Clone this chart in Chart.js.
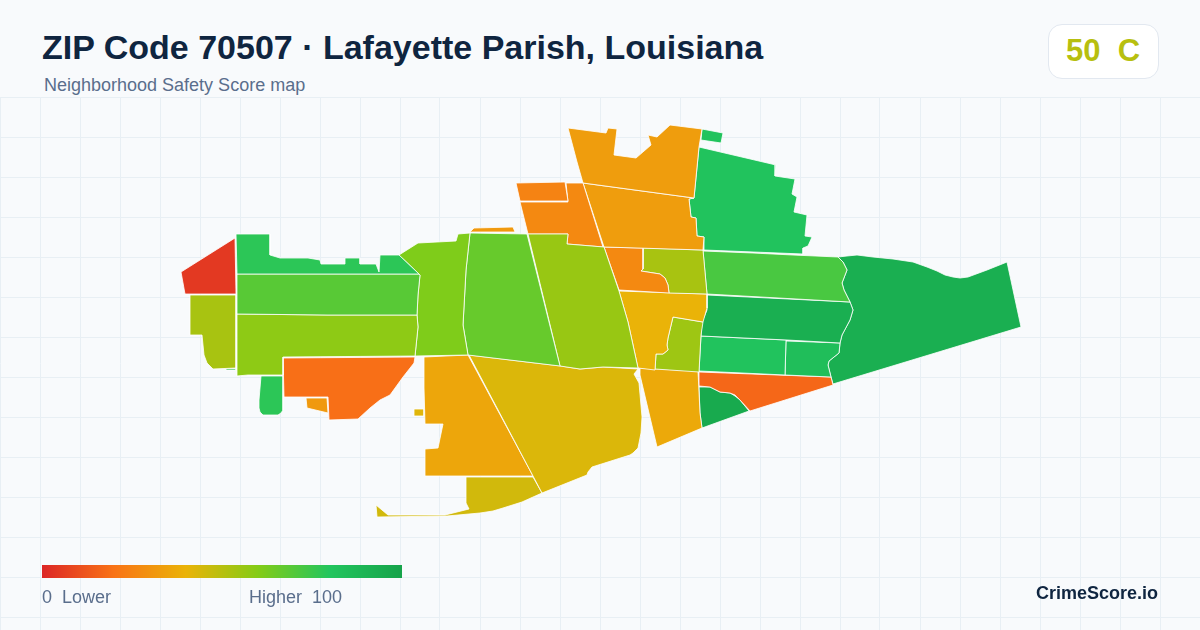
<!DOCTYPE html>
<html>
<head>
<meta charset="utf-8">
<title>ZIP Code 70507</title>
<script src="https://cdn.jsdelivr.net/npm/chart.js@4/dist/chart.umd.js"></script>
<style>
  html, body { margin: 0; padding: 0; background: #f8fafc; }
  body { width: 1200px; height: 630px; position: relative; overflow: hidden; font-family: "Liberation Sans", sans-serif; }
  #map { position: absolute; left: 0; top: 97px; }
  .txt { position: absolute; white-space: pre; line-height: 1; }
  #title { left: 42px; top: 30px; font-size: 34px; font-weight: 700; color: #0f2540; }
  #sub { left: 44px; top: 76px; font-size: 18px; color: #5a6e8c; }
  #badge { position: absolute; left: 1048px; top: 24px; width: 109px; height: 53px; background: #fff; border: 1px solid #e2e8f0; border-radius: 14px; }
  #grade { left: 1066px; top: 35px; font-size: 31px; font-weight: 700; color: #b7bf0f; }
  #ramp { position: absolute; left: 42px; top: 565px; width: 360px; height: 13px; }
  #low { left: 42px; top: 588px; font-size: 18px; color: #5a6e8c; }
  #high { left: 249px; top: 588px; font-size: 18px; color: #5a6e8c; }
  #brand { left: 1036px; top: 584px; font-size: 18px; font-weight: 700; color: #0f2540; }
</style>
</head>
<body>
<canvas id="map" width="1200" height="533"></canvas>
<div class="txt" id="title">ZIP Code 70507 · Lafayette Parish, Louisiana</div>
<div class="txt" id="sub">Neighborhood Safety Score map</div>
<div id="badge"></div>
<div class="txt" id="grade">50  C</div>
<div id="ramp"></div>
<div class="txt" id="low">0  Lower</div>
<div class="txt" id="high">Higher  100</div>
<div class="txt" id="brand">CrimeScore.io</div>
<script>
(function () {
    'use strict';

    // score for each tract
    var tractScores = [5, 78, 69, 58, 53, 78, 19, 32, 78, 61, 66, 32, 56, 25, 27, 33, 33, 81, 81, 27, 53, 40, 55, 37, 72, 93, 81, 84, 17, 96, 93, 43, 36, 42, 45];

    // tract outlines as x,y runs in map units
    var tractOutlines = [
        [181,272, 235,238, 236,294, 185,294],
        [236,234, 270,234, 270,255, 280,258, 308,258, 320,260, 321,264, 345,264, 345,258, 360,258, 360,264, 376,264, 379,272, 380,255, 399,255, 419,274, 237,274],
        [237,274, 419,274, 420,275, 418,295, 417,315, 327,315, 237,314],
        [237,314, 327,315, 417,315, 418,327, 415,356, 283,357, 283,375, 248,375, 237,376],
        [190,295, 236,295, 236,368, 213,369, 207,363, 204,355, 202,335, 190,335],
        [226,368.5, 236,368.5, 236,370, 226,370],
        [283,358, 415,357, 414,363, 403,377, 390,395, 380,400, 370,408, 358,419, 329,420, 328,397, 284,397],
        [306,398, 327,398, 328,413, 307,408],
        [261,376, 283,376, 283,410, 281,413, 278,415, 263,415, 260,412, 259,408, 259,400],
        [399,255, 418,243, 456,241, 458,234, 470,233, 466,270, 463,325, 468,355, 415,356, 418,327, 417,315, 418,295, 420,275, 419,274],
        [470,233, 527,234, 560,366, 468,355, 463,325, 466,270],
        [470,232, 474,228, 513,227, 515,232],
        [528,234, 568,234, 567,244, 604,247, 619,291, 628,322, 638,368, 603,367, 580,369, 560,366],
        [516,183, 565,182, 568,201, 520,201],
        [520,202, 568,202, 566,183, 583,183, 603,247, 567,244, 568,234, 528,234],
        [568,128, 606,133, 608,128, 617,129, 614,155, 636,158, 651,145, 648,135, 657,137, 670,125, 702,129, 699,147, 694,198, 583,183, 577,162],
        [583,183, 694,198, 689,199, 691,217, 696,218, 697,236, 704,237, 703,250, 604,247],
        [699,147, 776,165, 775,176, 795,179, 792,194, 797,197, 794,212, 807,215, 805,236, 812,237, 808,246, 803,248, 803,254, 704,250, 704,237, 697,236, 696,218, 691,217, 689,199, 694,198],
        [702,129, 723,133, 721,143, 701,140],
        [604,247, 643,248, 643,269, 641,271, 660,274, 665,278, 668,285, 669,293, 619,290],
        [643,248, 703,250, 707,294, 669,293, 668,285, 665,278, 660,274, 641,271, 643,269],
        [619,291, 707,294, 707,308, 703,322, 673,317, 668,338, 667,345, 668,350, 663,354, 656,354, 655,370, 638,368, 628,322],
        [673,317, 703,322, 701,335, 699,372, 655,369, 656,354, 663,354, 668,350, 667,345, 668,338],
        [640,368, 698,371, 700,413, 702,428, 657,447, 640,375],
        [703,251, 753,253, 793,255, 838,257, 843,262, 847,270, 842,283, 844,290, 850,302, 707,294],
        [707,295, 850,302, 853,310, 850,320, 842,335, 840,343, 787,340, 701,336, 702,322, 707,310],
        [701,336, 786,340, 785,375, 699,371],
        [786,341, 840,343, 839,353, 829,361, 828,365, 831,377, 785,375],
        [699,372, 831,377, 833,385, 750,411, 740,400, 735,395, 730,393, 720,392, 710,387, 699,386],
        [699,387, 710,387, 720,392, 730,393, 735,396, 740,400, 749,411, 702,428, 700,413],
        [838,257, 847,256, 857,255, 873,257, 893,259, 913,262, 927,267, 937,271, 945,275, 953,277, 960,278, 968,277, 987,270, 1007,262, 1021,327, 833,384, 831,377, 828,365, 829,361, 839,353, 840,343, 842,335, 850,320, 853,310, 850,302, 844,290, 842,283, 847,270, 843,262],
        [469,355, 561,366, 580,369, 603,367, 638,369, 634,374, 639,383, 642,417, 641,433, 638,448, 633,453, 630,455, 592,467, 588,472, 587,475, 542,493],
        [424,357, 468,355, 533,476, 425,476, 425,449, 438,448, 443,424, 425,424, 424,388],
        [414,409, 424,409, 424,416, 414,416],
        [466,477, 533,477, 542,493, 522,502, 503,508, 493,511, 480,513, 447,516, 377,517, 376,505, 388,515, 445,515, 469,509, 466,503]
    ];

    var gridColumns = [0, 40, 80, 120, 160, 200, 240, 280, 320, 360, 400, 440, 480, 520, 560, 600, 640, 680, 720, 760, 800, 840, 880, 920, 960, 1000, 1040, 1080, 1120, 1160, 1200];
    var gridRows = [97, 137, 177, 217, 257, 297, 337, 377, 417, 457, 497, 537, 577, 617];

    var rampScores = [0, 20, 40, 60, 80, 100];
    var rampColors = ['#dc2626', '#f97316', '#eab308', '#84cc16', '#22c55e', '#16a34a'];

    function hexToRgb(hex) {
        return [1, 3, 5].map(function (i) { return parseInt(hex.substr(i, 2), 16); });
    }

    function scoreColor(score) {
        var i = Math.min(Math.floor(score / 20), rampColors.length - 2);
        var t = (score - rampScores[i]) / 20;
        var a = hexToRgb(rampColors[i]), b = hexToRgb(rampColors[i + 1]);
        return 'rgb(' + a.map(function (v, k) { return Math.round(v + (b[k] - v) * t); }).join(',') + ')';
    }

    function toPoints(run) {
        var pts = [];
        for (var i = 0; i < run.length; i += 2) { pts.push({ x: run[i], y: run[i + 1] }); }
        pts.push({ x: run[0], y: run[1] });
        return pts;
    }

    document.getElementById('ramp').style.background = 'linear-gradient(90deg,' + rampColors.join(',') + ')';

    function setTicks(list) {
        return function (axis) { axis.ticks = list.map(function (v) { return { value: v }; }); };
    }

    var gridStyle = { color: '#e8eff4', lineWidth: 1, drawTicks: false };

    new Chart(document.getElementById('map'), {
        type: 'scatter',
        data: {
            datasets: tractOutlines.map(function (run, i) {
                return {
                    data: toPoints(run),
                    showLine: true,
                    fill: 'shape',
                    backgroundColor: scoreColor(tractScores[i]),
                    borderColor: '#ffffff',
                    borderWidth: 0.8,
                    pointRadius: 0,
                    tension: 0
                };
            })
        },
        options: {
            responsive: false,
            animation: false,
            layout: { padding: 0 },
            plugins: { legend: { display: false }, tooltip: { enabled: false } },
            scales: {
                x: { type: 'linear', min: 0, max: 1200, grid: gridStyle, border: { display: false }, ticks: { display: false }, afterBuildTicks: setTicks(gridColumns) },
                y: { type: 'linear', min: 97, max: 630, reverse: true, grid: gridStyle, border: { display: false }, ticks: { display: false }, afterBuildTicks: setTicks(gridRows) }
            }
        }
    });
})();
</script>
</body>
</html>
